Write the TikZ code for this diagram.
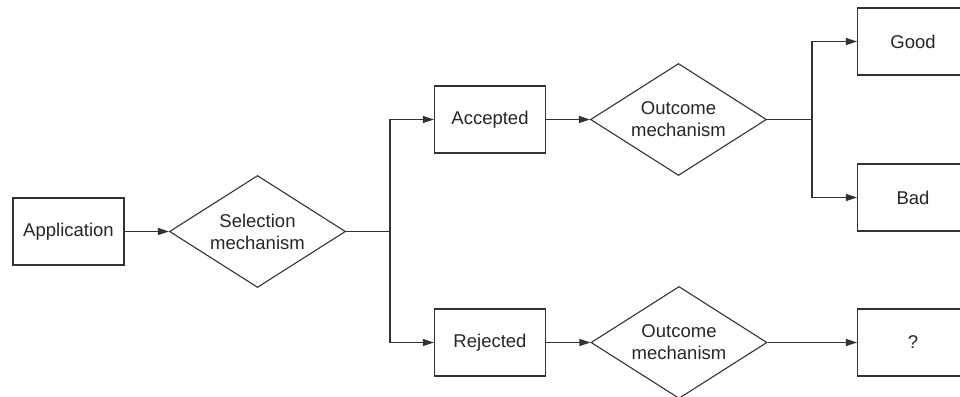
\documentclass[tikz,border=0pt]{standalone}
\usepackage{fontspec}
\setmainfont{Liberation Sans}
\usetikzlibrary{shapes.geometric,arrows.meta}
\begin{document}
\begin{tikzpicture}[x=1pt,y=-1pt,
  lbl/.style={font=\fontsize{18.5}{22}\selectfont,text=black!85},
  box/.style={lbl,draw=black!80,line width=1.1pt,minimum width=111pt,minimum height=67pt,inner sep=0pt},
  dec/.style={lbl,draw=black!80,line width=1.1pt,shape=diamond,aspect=1.6,minimum width=176pt,minimum height=112pt,inner sep=0pt,align=center},
  ln/.style={draw=black!80,line width=1.1pt},
  arr/.style={ln,-{Triangle[length=11pt,width=7pt]}}]
\useasboundingbox (0,0) rectangle (960,396);
\fill[white] (0,0) rectangle (960,396);
\node[box] (app) at (68.5,231.5) {Application};
\node[dec] (sel) at (257.5,231.5) {Selection\\mechanism};
\node[box] (acc) at (490,119.5) {Accepted};
\node[dec] (out1) at (678.5,119.5) {Outcome\\mechanism};
\node[box] (good) at (913,41.5) {Good};
\node[box] (bad) at (913,197.5) {Bad};
\node[box] (rej) at (490,342.5) {Rejected};
\node[dec] (out2) at (679,342.5) {Outcome\\mechanism};
\node[box] (q) at (913,342.5) {?};
\coordinate (j1) at (390,231.5);
\coordinate (j2) at (812,119.5);
\draw[arr] (app) -- (sel);
\draw[ln] (sel.east) -- (j1);
\draw[arr] (j1) |- (acc.west);
\draw[arr] (j1) |- (rej.west);
\draw[arr] (acc) -- (out1);
\draw[arr] (rej) -- (out2);
\draw[ln] (out1.east) -- (j2);
\draw[arr] (j2) |- (good.west);
\draw[arr] (j2) |- (bad.west);
\draw[arr] (out2) -- (q);
\end{tikzpicture}
\end{document}
